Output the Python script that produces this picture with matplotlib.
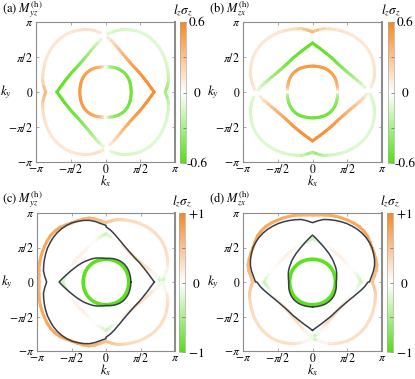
import numpy as np
import matplotlib
matplotlib.use('Agg')
import matplotlib.pyplot as plt
from matplotlib.collections import LineCollection
from matplotlib.colors import LinearSegmentedColormap, Normalize
from matplotlib.cm import ScalarMappable

plt.rcParams['mathtext.fontset'] = 'stix'
plt.rcParams['font.family'] = 'STIXGeneral'
plt.rcParams['font.size'] = 9

# angles (deg) at which radii were read, one quadrant
ANG = np.arange(0, 91, 5)

# panel (a) Fermi surfaces, first quadrant, radius in units of pi
R_OUT = [0.86, 0.89, 0.92, 0.935, 0.95, 0.965, 0.98, 0.99, 1.0, 1.005,
         1.005, 1.0, 0.99, 0.97, 0.95, 0.925, 0.89, 0.85, 0.82]
R_MID = [0.70, 0.66, 0.63, 0.605, 0.585, 0.57, 0.56, 0.55, 0.545, 0.545,
         0.55, 0.56, 0.575, 0.595, 0.625, 0.66, 0.705, 0.755, 0.80]
R_IN = [0.37, 0.37, 0.371, 0.373, 0.376, 0.379, 0.382, 0.384, 0.385, 0.385,
        0.384, 0.382, 0.379, 0.375, 0.371, 0.367, 0.364, 0.362, 0.36]
# lz*sigma_z on them, first quadrant (odd in kx)
C_OUT = [-0.35, -0.3, -0.22, -0.17, -0.15, -0.14, -0.13, -0.12, -0.12, -0.12,
         -0.12, -0.12, -0.12, -0.13, -0.14, -0.15, -0.15, -0.12, 0.0]
C_MID = [0.55, 0.55, 0.55, 0.54, 0.53, 0.52, 0.51, 0.50, 0.48, 0.46,
         0.44, 0.41, 0.38, 0.35, 0.31, 0.26, 0.2, 0.12, 0.0]
C_IN = [-0.5, -0.5, -0.5, -0.5, -0.5, -0.5, -0.49, -0.49, -0.48, -0.47,
        -0.46, -0.45, -0.44, -0.42, -0.4, -0.36, -0.3, -0.18, 0.0]

# panel (c): extra pieces (angle measured from the -kx axis for *_L)
OUT_L = [0.97, 0.975, 0.985, 1.0, 1.01, 1.02, 1.03, 1.04, 1.048, 1.045,
         1.035, 1.01, 0.99, 0.98, 0.97, 0.96, 0.93, 0.89, 0.86]
MID_L = [0.63, 0.60, 0.58, 0.565, 0.555, 0.55, 0.545, 0.54, 0.54, 0.54,
         0.54, 0.545, 0.555, 0.57, 0.59, 0.615, 0.64, 0.67, 0.70]
SPIKE_L = [0.68, 0.63, 0.585, 0.55, 0.52, 0.495, 0.475, 0.455, 0.44, 0.425,
           0.41, 0.4, 0.39, 0.38, 0.37, 0.36, 0.352, 0.346, 0.34]
IN_R = [0.36, 0.36, 0.361, 0.362, 0.364, 0.366, 0.368, 0.369, 0.37, 0.37,
        0.369, 0.367, 0.364, 0.36, 0.356, 0.352, 0.347, 0.343, 0.34]
RING = [0.33, 0.33, 0.33, 0.331, 0.332, 0.333, 0.334, 0.335, 0.335, 0.335,
        0.335, 0.335, 0.334, 0.333, 0.332, 0.331, 0.33, 0.33, 0.33]
CO_R = [-0.3, -0.1, 0.1, 0.2, 0.25, 0.27, 0.28, 0.28, 0.28, 0.28,
        0.28, 0.28, 0.28, 0.30, 0.32, 0.35, 0.40, 0.45, 0.5]
CO_L = [0.6, 0.62, 0.65, 0.68, 0.7, 0.72, 0.72, 0.72, 0.72, 0.72,
        0.72, 0.7, 0.68, 0.66, 0.64, 0.62, 0.6, 0.55, 0.5]
CM_R = [-0.3, -0.1, 0.1, 0.2, 0.25, 0.28, 0.3, 0.3, 0.3, 0.28,
        0.25, 0.2, 0.15, 0.1, 0.05, 0.0, -0.1, -0.2, -0.3]
CM_L = [-0.3, -0.22, -0.12, -0.04, 0.02, 0.06, 0.1, 0.12, 0.12, 0.12,
        0.12, 0.1, 0.08, 0.05, 0.02, -0.02, -0.1, -0.2, -0.3]
RING_VAL = -0.95

cmap = LinearSegmentedColormap.from_list('lzsz', ['#55df12', '#ffffff', '#f7871f'])
DARK = '#363d46'


def ring(rq, cq=None):
    th, r, c = [], [], []
    for q in range(4):
        th += list(np.deg2rad(ANG + 90 * q))
        r += list(rq[q])
        if cq is not None:
            c += list(cq[q])
    th = np.array(th)
    r = np.array(r) * np.pi
    return r * np.cos(th), r * np.sin(th), np.array(c)


def odd_x(R, C):
    R, C = np.asarray(R), np.asarray(C)
    return ring([R, R[::-1], R, R[::-1]], [C, -C[::-1], -C, C[::-1]])


def halves(RR, RL, CR, CL):
    RR, RL, CR, CL = map(np.asarray, (RR, RL, CR, CL))
    return ring([RR, RL[::-1], RL, RR[::-1]], [CR, CL[::-1], CL, CR[::-1]])


def draw(ax, x, y, c, norm, lw=2.2):
    pts = np.column_stack([x, y])
    segs = np.stack([pts[:-1], pts[1:]], axis=1)
    lc = LineCollection(segs, colors=cmap(norm(c[:-1])), linewidths=lw,
                        capstyle='round', zorder=2)
    ax.add_collection(lc)


W, H = 415, 379
fig = plt.figure(figsize=(W / 100, H / 100), dpi=100)


def px_axes(x0, x1, y0, y1):
    return fig.add_axes([x0 / W, 1 - y1 / H, (x1 - x0) / W, (y1 - y0) / H])


ticks = [-np.pi, -np.pi / 2, 0, np.pi / 2, np.pi]
tlabs = [r'$-\pi$', r'$-\pi/2$', r'$0$', r'$\pi/2$', r'$\pi$']


def setup(ax, x0, x1, ybase):
    ax.set_xlim(-np.pi, np.pi)
    ax.set_ylim(-np.pi, np.pi)
    ax.set_xticks(ticks, tlabs)
    ax.set_yticks(ticks, tlabs)
    ax.tick_params(direction='in', length=2, color='#999999', width=0.6,
                   top=True, right=True, labelsize=8.5)
    ax.tick_params(axis='x', pad=1)
    ax.tick_params(axis='y', pad=2)
    for s in ax.spines.values():
        s.set_color('#8c8c8c')
        s.set_linewidth(0.8)
    ax.spines['right'].set_linewidth(1.5)
    fig.text((x0 + x1) / 2 / W, 1 - ybase / H, r'$k_x$', ha='center',
             va='baseline', fontsize=9)
    ax.set_ylabel(r'$k_y$', rotation=0, va='center', ha='center', fontsize=9.5)
    ax.yaxis.set_label_coords(-0.22, 0.5)


def cbar(x0, x1, y0, y1, vmax, labels):
    cax = px_axes(x0, x1, y0, y1)
    norm = Normalize(-vmax, vmax)
    cb = fig.colorbar(ScalarMappable(norm, cmap), cax=cax)
    cb.outline.set_edgecolor('#aaaaaa')
    cb.outline.set_linewidth(0.5)
    cb.set_ticks([-vmax, -vmax / 2, 0, vmax / 2, vmax],
                 labels=[labels[0], '', labels[1], '', labels[2]])
    cax.tick_params(direction='in', length=2, color='#777777', width=0.6,
                    pad=8, labelsize=9.5)
    for t in cax.get_yticklabels():
        t.set_ha('center')
    fig.text((x0 + x1) / 2 / W, 1 - (y0 - 8) / H, r'$l_z\sigma_z$',
             ha='center', va='baseline', fontsize=9.5)
    return norm


# panel layout in pixels
ax_a = px_axes(36, 175, 22, 162)
ax_b = px_axes(243, 382, 22, 162)
ax_c = px_axes(37, 175, 213, 351)
ax_d = px_axes(243, 382, 213, 351)
n06 = cbar(180, 186, 22, 163, 0.6, ['-0.6', '0', '0.6'])
cbar(388, 394, 22, 163, 0.6, ['-0.6', '0', '0.6'])
n1 = cbar(179, 185, 213, 352, 1.0, [r'$-1$', r'$0$', r'$+1$'])
cbar(387, 393, 213, 352, 1.0, [r'$-1$', r'$0$', r'$+1$'])

# (a) and (b): (b) is (a) turned by 90 degrees
curves_a = [odd_x(R_OUT, C_OUT), odd_x(R_MID, C_MID), odd_x(R_IN, C_IN)]
for x, y, c in curves_a:
    draw(ax_a, x, y, c, n06)
    draw(ax_b, y, -x, c, n06)

# (c) and (d): coloured bands plus dark partner bands
col_c = [halves(np.asarray(R_OUT)[::-1], OUT_L, CO_R, CO_L),
         halves(np.asarray(R_MID)[::-1], MID_L, CM_R, CM_L)]
Rr = np.asarray(RING)
ring_c = ring([Rr, Rr, Rr, Rr])
Rm, Ro = np.asarray(R_MID), np.asarray(R_OUT)
Si, Ir = np.asarray(SPIKE_L), np.asarray(IN_R)
dark_c = [ring([Rm, Ro[::-1], Ro, Rm[::-1]]),
          ring([Ir, Si[::-1], Si, Ir[::-1]])]

for ax, turn in ((ax_c, False), (ax_d, True)):
    for x, y, c in col_c:
        if turn:
            x, y = y, -x
        draw(ax, x, y, c, n1)
    x, y, _ = ring_c
    if turn:
        x, y = y, -x
    ax.plot(x, y, color=cmap(n1(RING_VAL)), lw=2.6, zorder=2)
    for x, y, _ in dark_c:
        if turn:
            x, y = y, -x
        ax.plot(x, y, color=DARK, lw=1.1, zorder=3)

setup(ax_a, 36, 175, 185)
setup(ax_b, 243, 382, 185)
setup(ax_c, 37, 175, 374)
setup(ax_d, 243, 382, 374)

titles = [(2, 12, r'(a) $M_{yz}^{\rm (h)}$'), (209, 12, r'(b) $M_{zx}^{\rm (h)}$'),
          (2, 202, r'(c) $M_{yz}^{\rm (h)}$'), (209, 202, r'(d) $M_{zx}^{\rm (h)}$')]
for x, y, s in titles:
    fig.text(x / W, 1 - y / H, s, ha='left', va='baseline', fontsize=9)

fig.savefig('out.png', dpi=100)
